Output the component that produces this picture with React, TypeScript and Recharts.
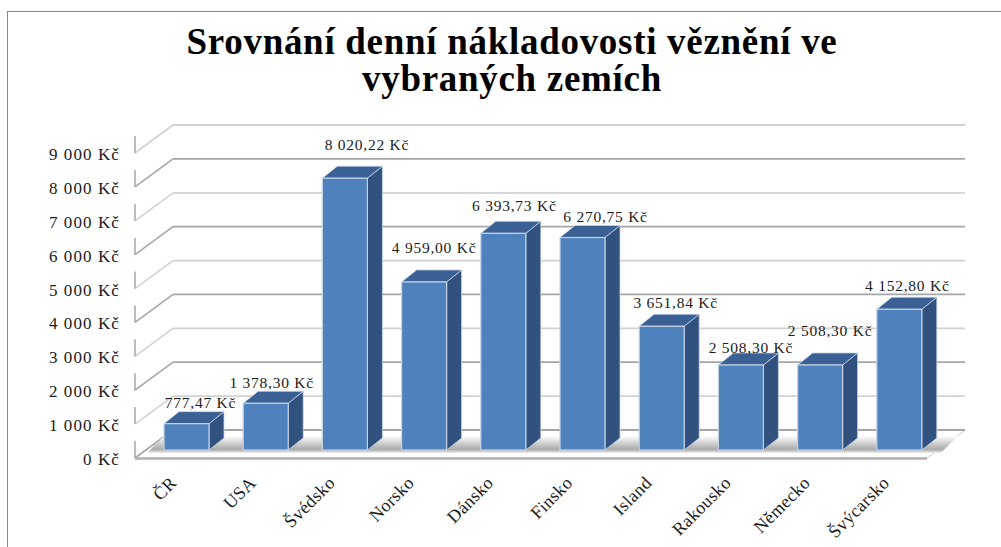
import React from "react";
import { BarChart, Bar, XAxis, YAxis, CartesianGrid, LabelList } from "recharts";

const categories = ["ČR", "USA", "Švédsko", "Norsko", "Dánsko", "Finsko", "Island", "Rakousko", "Německo", "Švýcarsko"];
const values = [777.47, 1378.3, 8020.22, 4959.0, 6393.73, 6270.75, 3651.84, 2508.3, 2508.3, 4152.8];
const valueLabels = ["777,47 Kč", "1 378,30 Kč", "8 020,22 Kč", "4 959,00 Kč", "6 393,73 Kč", "6 270,75 Kč", "3 651,84 Kč", "2 508,30 Kč", "2 508,30 Kč", "4 152,80 Kč"];
const yTicks = [0, 1000, 2000, 3000, 4000, 5000, 6000, 7000, 8000, 9000];
const yTickLabels = ["0 Kč", "1 000 Kč", "2 000 Kč", "3 000 Kč", "4 000 Kč", "5 000 Kč", "6 000 Kč", "7 000 Kč", "8 000 Kč", "9 000 Kč"];
const gridValues = [0, 500, 1000, 1500, 2000, 2500, 3000, 3500, 4000, 4500, 5000, 5500, 6000, 6500, 7000, 7500, 8000, 8500, 9000];
const titleLines = ["Srovnání denní nákladovosti věznění ve", "vybraných zemích"];

// label placement relative to each bar's top centre (hand-placed in the original)
const labelDx = [14, 6, 22, 10, 11, 23, 14, 10, 10, 8];
const labelDy = [-20, -19, -32, -33, -26, -19, -22, -16, -33, -22];

const FONT = "'Liberation Serif', serif";
const DEPTH_X = 15;
const DEPTH_Y = -12;
const WALL_X = 38;
const FRONT_DY = 8;

const data = categories.map((name, i) => ({ name, value: values[i], label: valueLabels[i] }));

function GridLine(props: any) {
  const { x1, x2, y1, index } = props;
  const major = index % 2 === 0;
  const stroke = major ? "#a6a6a6" : "#d2d2d2";
  const backY = y1 - 20;
  const frontX = x1 - 12;
  const backX = frontX + WALL_X;
  const backEnd = x2 + 26;
  const frontY = y1 + FRONT_DY;
  const isFloor = gridValues[index] === 0;
  const isTop = index === gridValues.length - 1;
  return (
    <g key={index}>
      {isFloor && (
        <polygon points={`${frontX},${frontY} ${backX},${backY} ${backEnd},${backY} ${backEnd - WALL_X},${frontY}`} fill="#ffffff" stroke="#d0d0d0" strokeWidth={1} />
      )}
      <line x1={frontX} y1={frontY} x2={backX} y2={backY} stroke={stroke} strokeWidth={1.6} />
      <line x1={backX} y1={backY} x2={backEnd} y2={backY} stroke={stroke} strokeWidth={1.8} />
      {!isTop && <line x1={frontX} y1={frontY} x2={frontX} y2={frontY - 17} stroke="#a6a6a6" strokeWidth={1.5} />}
      {isFloor && <line x1={frontX} y1={frontY + 0.5} x2={backEnd - WALL_X} y2={frontY + 0.5} stroke="#b0b0b0" strokeWidth={2.5} />}
    </g>
  );
}

function FloorShadow(props: any) {
  const { x, y, width, height } = props;
  const base = y + height;
  const l = x - 17;
  const r = x + width + 19;
  const top = base - 14;
  const bottom = base + 3;
  return (
    <polygon points={`${l},${bottom} ${l + 17},${top} ${r + 17},${top} ${r},${bottom}`} fill="url(#floorShade)" />
  );
}

function Bar3D(props: any) {
  const { x, y, width, height } = props;
  const dx = DEPTH_X;
  const dy = DEPTH_Y;
  const edge = "#c5d2e6";
  return (
    <g>
      <polygon points={`${x + width},${y} ${x + width + dx},${y + dy} ${x + width + dx},${y + height + dy} ${x + width},${y + height}`} fill="#31527f" stroke={edge} strokeWidth={0.8} />
      <polygon points={`${x},${y} ${x + dx},${y + dy} ${x + width + dx},${y + dy} ${x + width},${y}`} fill="#3b6094" stroke={edge} strokeWidth={0.8} />
      <rect x={x} y={y} width={width} height={height} fill="#4f81bd" stroke={edge} strokeWidth={1.2} />
    </g>
  );
}

function ValueLabel(props: any) {
  const { x, y, width, index } = props;
  return (
    <text x={x + width / 2 + labelDx[index]} y={y + labelDy[index]} dy={4} textAnchor="middle" fontFamily={FONT} fontSize={15.5} letterSpacing={0.75} fill="#1c1c1c">
      {valueLabels[index]}
    </text>
  );
}

function YTick(props: any) {
  const { x, y, index } = props;
  return (
    <text x={x - 19} y={y + FRONT_DY + 2} dy={5} textAnchor="end" fontFamily={FONT} fontSize={17} letterSpacing={1.1} fill="#1c1c1c">
      {yTickLabels[index]}
    </text>
  );
}

function XTick(props: any) {
  const { x, index } = props;
  const px = x - 9;
  const py = 484;
  return (
    <text x={px} y={py} textAnchor="end" transform={`rotate(-45 ${px} ${py})`} fontFamily={FONT} fontSize={18} letterSpacing={0.3} fill="#1c1c1c">
      {categories[index]}
    </text>
  );
}

export default function App() {
  return (
    <div style={{ position: "absolute", left: 0, top: 0, width: 1001, height: 547, overflow: "hidden", background: "#fff" }}>
      <div style={{ position: "absolute", left: 7, top: 11, right: -2, bottom: -2, borderLeft: "1px solid #8a8a8a", borderTop: "1px solid #8a8a8a" }} />
      <div style={{ position: "absolute", left: 0, top: 0 }}>
        <BarChart
          width={1001}
          height={547}
          data={data}
          margin={{ top: 145, right: 62, bottom: 37, left: 12 }}
          barSize={45}
        >
          <defs>
            <linearGradient id="floorShade" x1="0" y1="0" x2="0" y2="1">
              <stop offset="0" stopColor="#ffffff" />
              <stop offset="0.6" stopColor="#bdbdbd" />
              <stop offset="0.8" stopColor="#acacac" />
              <stop offset="1" stopColor="#f0f0f0" />
            </linearGradient>
          </defs>
          <text textAnchor="middle" fontFamily={FONT} fontWeight="bold" fontSize={37} letterSpacing={0.7} fill="#000">
            <tspan x={512} y={54}>{titleLines[0]}</tspan>
            <tspan x={512} y={91}>{titleLines[1]}</tspan>
          </text>
          <CartesianGrid vertical={false} horizontal={GridLine as any} horizontalValues={gridValues} />
          <XAxis dataKey="name" interval={0} height={60} axisLine={false} tickLine={false} tick={XTick as any} />
          <YAxis domain={[0, 9000]} ticks={yTicks} width={135} axisLine={false} tickLine={false} tick={YTick as any} />
          <Bar dataKey="value" isAnimationActive={false} shape={Bar3D as any} background={FloorShadow as any}>
            <LabelList dataKey="label" content={ValueLabel as any} />
          </Bar>
        </BarChart>
      </div>
    </div>
  );
}
